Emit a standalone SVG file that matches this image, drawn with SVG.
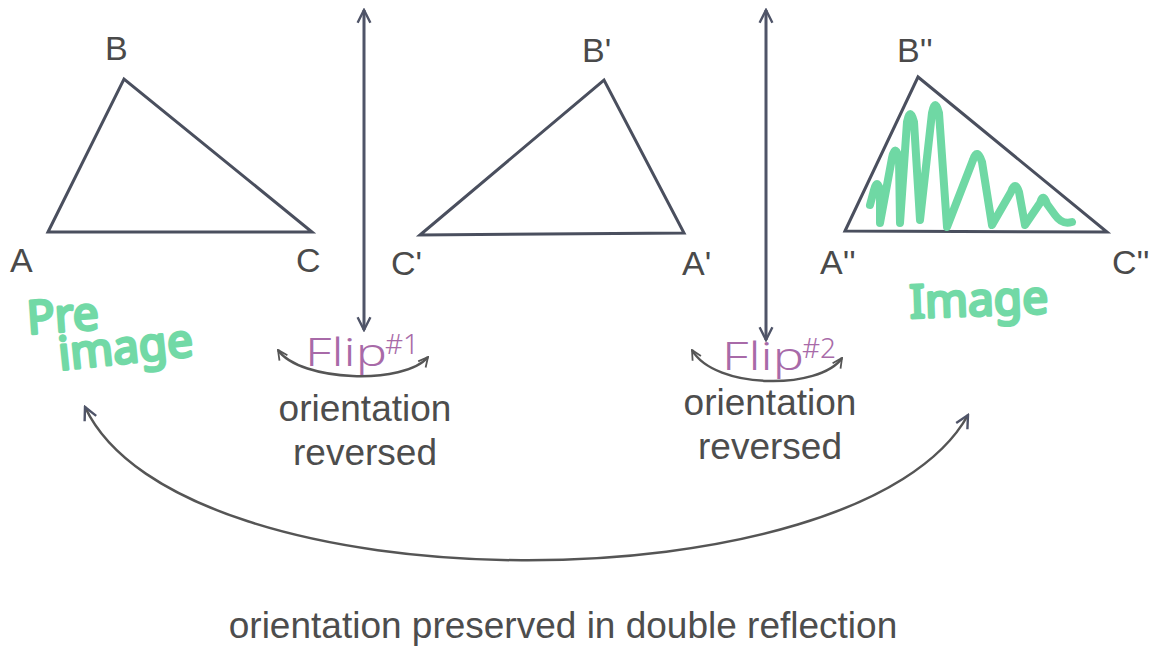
<svg xmlns="http://www.w3.org/2000/svg" width="1152" height="646" viewBox="0 0 1152 646">
<style>
.tri{fill:none;stroke:#4a4f5e;stroke-width:3;stroke-linejoin:miter}
.lbl{font-family:"Liberation Sans",Arial,sans-serif;font-size:34px;fill:#4a4a4a}
.txt{font-family:"Liberation Sans",Arial,sans-serif;font-size:37px;fill:#4d4d4d;text-anchor:middle}
.ax{fill:none;stroke:#4f5468;stroke-width:3}
.arc{fill:none;stroke:#555;stroke-width:2.5}
.grn{font-family:"Noto Sans",sans-serif;fill:#72d9a6;stroke:#72d9a6;stroke-width:3;stroke-linejoin:round}
.pur{font-family:"Noto Sans",sans-serif;fill:#a86aa8;font-weight:300}
</style>
<defs>
<marker id="ah" viewBox="0 0 20 20" refX="18" refY="10" markerWidth="16" markerHeight="16" markerUnits="userSpaceOnUse" orient="auto-start-reverse">
<path d="M2,2 L18,10 L2,18" fill="none" stroke="#4f5468" stroke-width="3"/>
</marker>
<marker id="ah2" viewBox="0 0 20 20" refX="18" refY="10" markerWidth="12" markerHeight="12" markerUnits="userSpaceOnUse" orient="auto-start-reverse">
<path d="M2,2 L18,10 L2,18" fill="none" stroke="#555" stroke-width="3"/>
</marker>
</defs>
<rect width="1152" height="646" fill="#ffffff"/>

<g id="preimage">
<polygon class="tri" points="48,232 124,79 312,232"/>
<text class="lbl" x="105" y="60">B</text>
<text class="lbl" x="10" y="272">A</text>
<text class="lbl" x="296" y="272">C</text>
<text class="grn" x="28" y="334" font-size="46" transform="rotate(-4 28 334)">Pre</text>
<text class="grn" x="60" y="370" font-size="46" transform="rotate(-6 60 370)">image</text>
</g>

<g id="image1">
<polygon class="tri" points="420,235 604,80 684,233"/>
<text class="lbl" x="582" y="62">B'</text>
<text class="lbl" x="391" y="275">C'</text>
<text class="lbl" x="682" y="275">A'</text>
</g>

<g id="image2">
<polygon class="tri" points="845,231 918,77 1107,232"/>
<path d="M870,205 L874,190 Q877,178 880,190 L880,223 L892,158 Q895,143 899,158 L900,223 L907,122 Q910,106 914,122 L920,220 L932,113 Q935,97 939,113 L947,227 L973,160 Q977,147 982,162 L992,225 L1011,192 Q1015,180 1019,192 L1025,225 L1040,203 Q1043,192 1047,204 L1055,215 Q1062,225 1072,222" fill="none" stroke="#6fd8a4" stroke-width="8" stroke-linecap="round" stroke-linejoin="round"/>
<text class="lbl" x="897" y="62">B''</text>
<text class="lbl" x="820" y="274">A''</text>
<text class="lbl" x="1112" y="274">C''</text>
<text class="grn" x="910" y="318" font-size="46" transform="rotate(-2 910 318)">Image</text>
</g>

<g id="flip1">
<text class="pur" x="305" y="366" font-size="38" textLength="82" lengthAdjust="spacingAndGlyphs">Flip</text>
<text class="pur" x="385" y="354" font-size="28">#1</text>
<text class="txt" x="365" y="421">orientation</text>
<text class="txt" x="365" y="465">reversed</text>
</g>

<g id="flip2">
<text class="pur" x="722" y="370" font-size="38" textLength="82" lengthAdjust="spacingAndGlyphs">Flip</text>
<text class="pur" x="802" y="358" font-size="28">#2</text>
<text class="txt" x="770" y="415">orientation</text>
<text class="txt" x="770" y="459">reversed</text>
</g>

<g id="caption">
<text class="txt" x="563" y="638">orientation preserved in double reflection</text>
</g>

<g id="connectors">
<line class="ax" x1="364" y1="10" x2="364" y2="330" marker-start="url(#ah)" marker-end="url(#ah)"/>
<line class="ax" x1="766" y1="10" x2="766" y2="340" marker-start="url(#ah)" marker-end="url(#ah)"/>
<path class="arc" d="M278,350 C300,382 405,385 428,357" marker-start="url(#ah2)" marker-end="url(#ah2)"/>
<path class="arc" d="M692,350 C715,390 820,390 842,358" marker-start="url(#ah2)" marker-end="url(#ah2)"/>
<path class="arc" d="M85,407 C180,610 860,610 968,415" marker-start="url(#ah)" marker-end="url(#ah)"/>
</g>
</svg>
